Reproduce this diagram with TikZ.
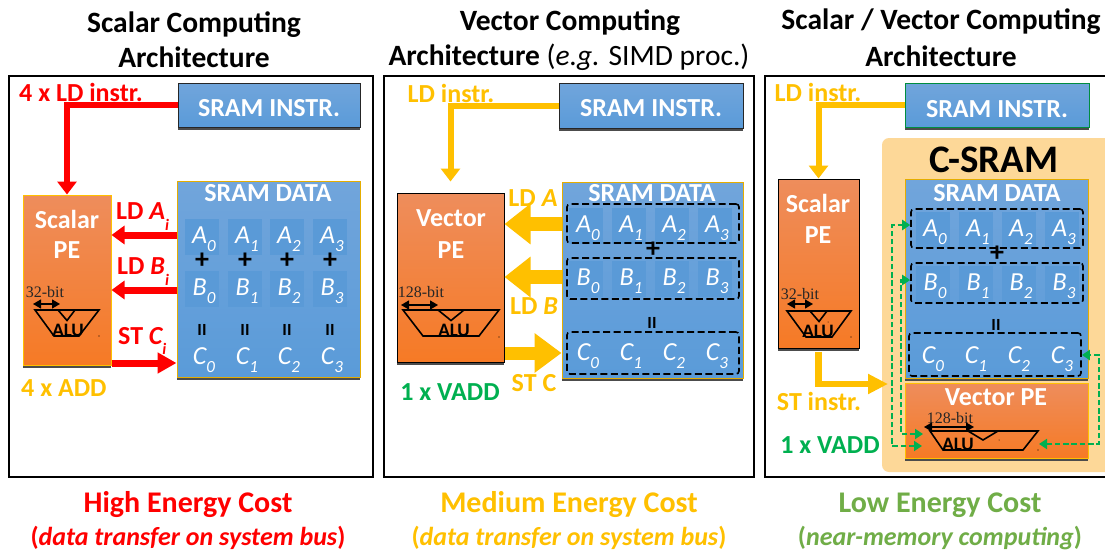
\documentclass[tikz,border=0pt]{standalone}
\usepackage{fontspec}
\setmainfont{Carlito}
\newfontfamily\serifalu{Liberation Serif}
\usetikzlibrary{arrows.meta,calc}
\definecolor{cred}{HTML}{FF0000}
\definecolor{cgold}{HTML}{FFC000}
\definecolor{cgreen}{HTML}{00B050}
\definecolor{clow}{HTML}{70AD47}
\definecolor{bluetop}{HTML}{71A5DB}
\definecolor{bluebot}{HTML}{5A9BD9}
\definecolor{orgtop}{HTML}{EE8D5C}
\definecolor{orgbot}{HTML}{F67A25}
\definecolor{cellc}{HTML}{5A9AD7}
\definecolor{halo}{HTML}{FDD898}
\newcommand{\fs}[1]{\fontsize{#1}{#1}\selectfont}
\newcommand{\subvar}[2]{{\itshape #1\raisebox{-0.3em}{\fontsize{17}{17}\selectfont #2}}}
\newcommand{\subsm}[2]{{\itshape #1\raisebox{-0.42em}{\fontsize{16}{16}\selectfont #2}}}
% \bx{name}{x0}{y0}{x1}{y1}{style}{text}
\newcommand{\bx}[7]{%
  \fill[black!70] (#2,#3+2.5) rectangle (#4,#5+2.5);
  \pgfmathsetmacro{\bw}{#4-#2}\pgfmathsetmacro{\bh}{#5-#3}
  \node[#6,minimum width=\bw pt,minimum height=\bh pt] (#1) at ({(#2+#4)/2},{(#3+#5)/2}) {#7};}
\newcommand{\cellat}[5]{% name cx cy letter digit, filled
  \node[cellbox] (#1) at (#2,#3) {}; \node[vartext] (#1t) at (#2+2,#3+2) {\subvar{#4}{#5}};}
\newcommand{\dbx}[5]{%
  \pgfmathsetmacro{\bw}{#4-#2}\pgfmathsetmacro{\bh}{#5-#3}
  \node[dashbox,minimum width=\bw pt,minimum height=\bh pt] (#1) at ({(#2+#4)/2},{(#3+#5)/2}) {};}
\newcommand{\alushape}[9]{%
  \draw[alul] (#1,#5) -- (#2,#5) -- (#3,#6) -- (#4,#6) -- cycle;
  \draw[alul] (#7,#5) -- (#9,#5+10.5) -- (#8,#5) ;}
\tikzset{
  x=1pt,y=-1pt,
  frame/.style={draw=black,line width=1.5pt,fill=white},
  panelbox/.style={draw=black!85,line width=1pt,top color=bluetop,bottom color=bluebot,inner sep=0pt},
  databox/.style={draw=cgold!90!black,line width=1pt,top color=bluetop,bottom color=bluebot,inner sep=0pt},
  pebox/.style={draw=cgold,line width=1pt,top color=orgtop,bottom color=orgbot,inner sep=0pt},
  pebk/.style={draw=black,line width=1pt,top color=orgtop,bottom color=orgbot,inner sep=0pt},
  cellbox/.style={fill=cellc,minimum width=34pt,minimum height=36pt,inner sep=0pt},
  vartext/.style={text=white,font=\fs{26},inner sep=0pt},
  whead/.style={text=white,font=\fs{26}\bfseries,inner sep=0pt},
  lab/.style={font=\fs{26}\bfseries,inner sep=0pt},
  titl/.style={font=\fs{29.5}\bfseries,inner sep=0pt,text=black},
  costa/.style={font=\fs{30}\bfseries,inner sep=0pt},
  costb/.style={font=\fs{26}\bfseries\itshape,inner sep=0pt},
  dashbox/.style={draw=black,line width=1.6pt,dash pattern=on 7pt off 3.5pt,rounded corners=3pt,inner sep=0pt},
  bitlab/.style={font=\fs{16}\serifalu,inner sep=0pt,text=black!85},
  alul/.style={draw=black,line width=1.6pt,line join=miter},
  alut/.style={font=\fs{19}\bfseries,inner sep=0pt,text=black},
  dbl/.style={line width=1.2pt,{Triangle[length=8pt,width=9pt]}-{Triangle[length=8pt,width=9pt]}},
  opt/.style={font=\fs{28}\bfseries,inner sep=0pt,text=black,text height=10pt,text depth=0pt},
  eqt/.style={font=\fs{17}\bfseries,inner sep=0pt,text=black},
  wire/.style={line width=6pt,-{Triangle[length=13pt,width=19pt]}},
  thin arrow/.style={line width=7pt,-{Triangle[length=13pt,width=18pt]}},
  st arrow/.style={line width=7pt,-{Triangle[length=19pt,width=20pt]}},
  fat arrow/.style={line width=14pt,-{Triangle[length=26pt,width=39pt]}},
  fat st/.style={line width=13pt,-{Triangle[length=27pt,width=38pt]}},
  gd/.style={draw=cgreen,line width=2pt,dash pattern=on 5.5pt off 2.8pt,{Triangle[length=8pt,width=10pt]}-{Triangle[length=8pt,width=10pt]}},
}
\begin{document}
\begin{tikzpicture}
\useasboundingbox (0,0) rectangle (1105,551);
\fill[white] (0,0) rectangle (1105,551);
% titles
\node[titl] (t1a) at (194,25) {Scalar Computing};
\node[titl] (t1b) at (194,57) {Architecture};
\node[titl] (t2a) at (570,23) {Vector Computing};
\node[titl] (t2b) at (569,57) {Architecture \textmd{(\textit{e.g.} SIMD proc.)}};
\node[titl] (t3a) at (941,22) {Scalar / Vector Computing};
\node[titl] (t3b) at (941,56) {Architecture};
% frames
\draw[frame] (9,76) rectangle (373,477);
\draw[frame] (384,76) rectangle (754,477);
\draw[frame] (765,76) rectangle (1106,477);

%%%%%% PANEL 1
\bx{instrA}{178}{83}{360}{127}{panelbox}{}
\node[whead] (itA) at (269,108) {SRAM INSTR.};
\bx{peA}{23}{195}{111}{365}{pebox}{}
\bx{dataA}{177}{181}{360}{377}{databox}{}
\node[whead] (dhA) at (268,193) {SRAM DATA};
\node[whead] (pA1) at (67,219) {Scalar};
\node[whead] (pA2) at (67,250) {PE};
\foreach \n/\x/\d in {0/202/0,1/245/1,2/287/2,3/330/3}{
  \cellat{aa\n}{\x}{237}{A}{\d}
  \cellat{ab\n}{\x}{289}{B}{\d}
  \node[vartext] (ac\n) at (\x+2,360) {\subvar{C}{\d}};
  \node[opt] (ap\n) at (\x,263) {+};
  \node[eqt] (ae\n) at (\x,330) {II};
}
\draw[wire,cred] (instrA.west) -| (peA.north);
\draw[thin arrow,cred] (dataA.west |- 0,235) -- (peA.east |- 0,235);
\draw[thin arrow,cred] (dataA.west |- 0,290) -- (peA.east |- 0,290);
\draw[st arrow,cred] (peA.east |- 0,363) -- (dataA.west |- 0,363);
\node[lab,text=cred,anchor=west] (lA0) at (19,92) {4 x LD instr.};
\node[lab,text=cred,anchor=west] (lA1) at (116,217) {LD \subsm{A}{i}};
\node[lab,text=cred,anchor=west] (lA2) at (117,272) {LD \subsm{B}{i}};
\node[lab,text=cred,anchor=west] (lA3) at (118,341) {ST \subsm{C}{i}};
\node[lab,text=cgold,anchor=west] (lA4) at (21,388) {4 x ADD};
\node[bitlab] (bA) at (45,292) {32-bit};
\draw[dbl] (33,304) -- (60,304);
\alushape{35}{99}{79}{54}{310}{336}{58}{75}{67}
\node[alut] (aluA) at (68,330) {ALU};
\fill (99,336) circle (0.7pt);

%%%%%% PANEL 2
\bx{instrB}{559}{83}{743}{128}{panelbox}{}
\node[whead] (itB) at (651,108) {SRAM INSTR.};
\bx{peB}{397}{193}{504}{362}{pebk}{}
\bx{dataB}{562}{182}{743}{378}{databox}{}
\node[whead] (dhB) at (652,193) {SRAM DATA};
\node[whead] (pB1) at (451,218) {Vector};
\node[whead] (pB2) at (451,250) {PE};
\foreach \n/\x/\d in {0/588/0,1/631/1,2/674/2,3/717/3}{
  \cellat{ba\n}{\x-2}{226}{A}{\d}
  \cellat{bb\n}{\x-2}{279}{B}{\d}
  \node[vartext] (bc\n) at (\x,356) {\subvar{C}{\d}};
}
\dbx{dBa}{567}{204}{739}{243}
\dbx{dBb}{567}{258}{739}{299}
\dbx{dBc}{567}{332}{739}{374}
\node[opt] (bp) at (653,252) {+};
\node[eqt] (be) at (652,323) {II};
\draw[wire,cgold,shorten >=11pt] (instrB.west) -| (peB.north);
\draw[fat arrow,cgold] (dataB.west |- 0,224) -- (peB.east |- 0,224);
\draw[fat arrow,cgold] (dataB.west |- 0,277) -- (peB.east |- 0,277);
\draw[fat st,cgold] (peB.east |- 0,353) -- (dataB.west |- 0,353);
\node[lab,text=cgold] (lB0) at (451,93) {LD instr.};
\node[lab,text=cgold] (lB1) at (533,198) {LD \textit{A}};
\node[lab,text=cgold] (lB2) at (534,306) {LD \textit{B}};
\node[lab,text=cgold] (lB3) at (534,383) {ST C};
\node[lab,text=cgreen] (lB4) at (450,392) {1 x VADD};
\node[bitlab] (bB) at (421,292) {128-bit};
\draw[dbl] (401,305) -- (438,305);
\alushape{403}{499}{479}{423}{310}{336}{438}{464}{451}
\node[alut] (aluB) at (454,330) {ALU};
\fill (499,337) circle (0.7pt);

%%%%%% PANEL 3
\fill[halo,rounded corners=7pt] (882,138) rectangle (1115,472);
\bx{instrC}{905}{83}{1089}{127}{panelbox,draw=cgreen!80!black}{}
\node[whead] (itC) at (997,109) {SRAM INSTR.};
\bx{peC}{778}{179}{859}{348}{pebk}{}
\bx{dataC}{905}{179}{1088}{378}{databox}{}
\bx{vpeC}{905}{383}{1088}{458}{pebox}{}
\node[font=\fs{39}\bfseries,inner sep=0pt] (cs) at (994,160) {C-SRAM};
\node[whead] (dhC) at (997,193) {SRAM DATA};
\node[whead] (pC1) at (818,203) {Scalar};
\node[whead] (pC2) at (818,235) {PE};
\node[whead] (vC) at (996,397) {Vector PE};
\foreach \n/\x/\d in {0/933/0,1/976/1,2/1019/2,3/1062/3}{
  \cellat{ca\n}{\x}{230}{A}{\d}
  \cellat{cb\n}{\x}{284}{B}{\d}
  \node[vartext] (cc\n) at (\x,359) {\subvar{C}{\d}};
}
\dbx{dCa}{911}{209}{1083}{248}
\dbx{dCb}{911}{263}{1083}{303}
\dbx{dCc}{909}{333}{1081}{376}
\node[opt] (cp) at (997,256) {+};
\node[eqt] (ce) at (996,325) {II};
\draw[wire,cgold] (instrC.west) -| (peC.north);
\coordinate (stEnd) at (888,384);
\draw[line width=6.5pt,cgold,-{Triangle[length=20pt,width=19pt]}] (peC.south) ++(0,3) |- (stEnd);
\node[lab,text=cgold] (lC0) at (818,92) {LD instr.};
\node[lab,text=cgold] (lC1) at (819,401) {ST instr.};
\node[lab,text=cgreen] (lC2) at (830,445) {1 x VADD};
\node[bitlab] (bC) at (800,294) {32-bit};
\draw[dbl] (787,304) -- (813,304);
\alushape{787}{851}{832}{806}{311}{337}{810}{827}{819}
\node[alut] (aluC) at (818,331) {ALU};
\fill (851,337) circle (0.7pt);
\fill (828,322) circle (0.5pt);
\node[bitlab] (bV) at (950,418) {128-bit};
\draw[dbl] (924,427) -- (974,427);
\draw[alul] (930,431) -- (1038,431) -- (1023,450) -- (943,450) -- cycle;
\draw[alul] (968,431) -- (983,440) -- (998,431);
\node[alut] (aluV) at (958,444) {ALU};
\fill (999,440) circle (0.5pt);
\fill (1038,450) circle (0.7pt);
% dashed green
\coordinate (g1a) at (922,446);
\coordinate (g2a) at (923,434);
\coordinate (g3a) at (1039,444);
\draw[gd] (g1a) -- (892,446) -- (892,225) -- (dCa.west |- 0,225);
\draw[gd] (g2a) -- (901,434) -- (901,280) -- (dCb.west |- 0,280);
\draw[gd] (g3a) -- (1099,444) -- (1099,355) -- (dCc.east |- 0,355);

%%%%%% COSTS
\node[costa,text=cred] (c1a) at (188,505) {High Energy Cost};
\node[costb,text=cred] (c1b) at (188,538) {\textup{(}data transfer on system bus\textup{)}};
\node[costa,text=cgold] (c2a) at (569,505) {Medium Energy Cost};
\node[costb,text=cgold] (c2b) at (569,538) {\textup{(}data transfer on system bus\textup{)}};
\node[costa,text=clow] (c3a) at (940,505) {Low Energy Cost};
\node[costb,text=clow] (c3b) at (940,538) {\textup{(}near-memory computing\textup{)}};
\end{tikzpicture}
\end{document}
